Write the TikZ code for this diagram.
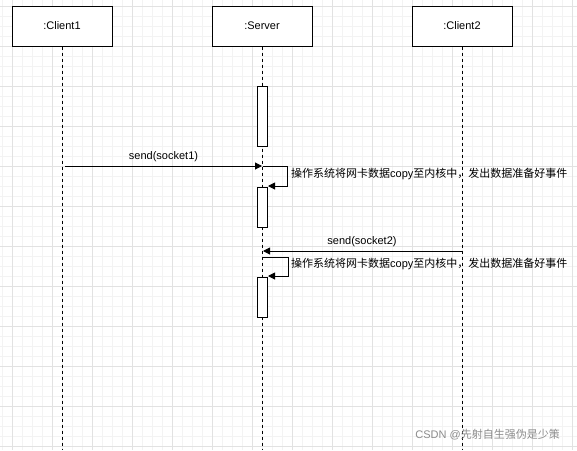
\documentclass[tikz,border=0pt]{standalone}
\usepackage{fontspec}
\setmainfont{Liberation Sans}
\newfontfamily\cjk{Noto Sans CJK SC}
\usetikzlibrary{arrows.meta}
\definecolor{minorgrid}{HTML}{F3F3F3}
\definecolor{majorgrid}{HTML}{E2E2E2}
\definecolor{wmark}{HTML}{8C8C8C}
\begin{document}
\begin{tikzpicture}[x=1pt,y=-1pt,
  every node/.style={font=\fontsize{11}{13}\selectfont},
  actor/.style={draw, line width=1pt, fill=white, minimum width=100pt, minimum height=40pt, inner sep=0pt},
  actbox/.style={draw, line width=1pt, fill=white, minimum width=10pt, inner sep=0pt},
  life/.style={line width=1pt, dash pattern=on 3pt off 3pt},
  msg/.style={line width=1pt, -{Triangle[length=7pt,width=7pt]}},
  lbl/.style={inner sep=0pt}
]
\useasboundingbox (0,0) rectangle (577,450);
\fill[white] (0,0) rectangle (577,450);
% grid
\foreach \x in {2,12,...,572} \draw[minorgrid, line width=0.8pt] (\x,0) -- (\x,450);
\foreach \y in {6,16,...,446} \draw[minorgrid, line width=0.8pt] (0,\y) -- (577,\y);
\foreach \x in {12,52,...,572} \draw[majorgrid, line width=0.8pt] (\x,0) -- (\x,450);
\foreach \y in {6,46,...,446} \draw[majorgrid, line width=0.8pt] (0,\y) -- (577,\y);

% actors
\node[actor] (c1) at (62,26) {:Client1};
\node[actor] (sv) at (262,26) {:Server};
\node[actor] (c2) at (462,26) {:Client2};
\coordinate (c1end) at (62,450);
\coordinate (svend) at (262,450);
\coordinate (c2end) at (462,450);

% lifelines
\draw[life] (c1.south) -- (c1end);
\draw[life] (sv.south) -- (svend);
\draw[life] (c2.south) -- (c2end);

% activations
\node[actbox, minimum height=60pt] (a1) at (262,116) {};
\node[actbox, minimum height=40pt] (a2) at (262,207) {};
\node[actbox, minimum height=40pt] (a3) at (262,297) {};

% message 1
\coordinate (m1s) at (65,166);
\coordinate (m1e) at (262,166);
\draw[msg] (m1s) -- (m1e);
\node[lbl] (l1) at (163.5,157) {send(socket1)};

% self message 1
\coordinate (s1a) at (263,166);
\coordinate (s1b) at (287,186);
\coordinate (s1e) at (268,186);
\draw[msg] (s1a) -| (s1b) -- (s1e);
\node[lbl, anchor=west] (t1) at (291,174) {{\cjk 操作系统将网卡数据}copy{\cjk 至内核中，发出数据准备好事件}};

% message 2
\coordinate (m2s) at (462,251);
\coordinate (m2e) at (263,251);
\draw[msg] (m2s) -- (m2e);
\node[lbl] (l2) at (362,242) {send(socket2)};

% self message 2
\coordinate (s2a) at (263,257);
\coordinate (s2b) at (288,276);
\coordinate (s2e) at (268,276);
\draw[msg] (s2a) -| (s2b) -- (s2e);
\node[lbl, anchor=west] (t2) at (291,264) {{\cjk 操作系统将网卡数据}copy{\cjk 至内核中，发出数据准备好事件}};

% watermark
\node[lbl, anchor=east, text=wmark] (wm) at (560,435) {CSDN @{\cjk 先射自生强伪是少策}};
\end{tikzpicture}
\end{document}
